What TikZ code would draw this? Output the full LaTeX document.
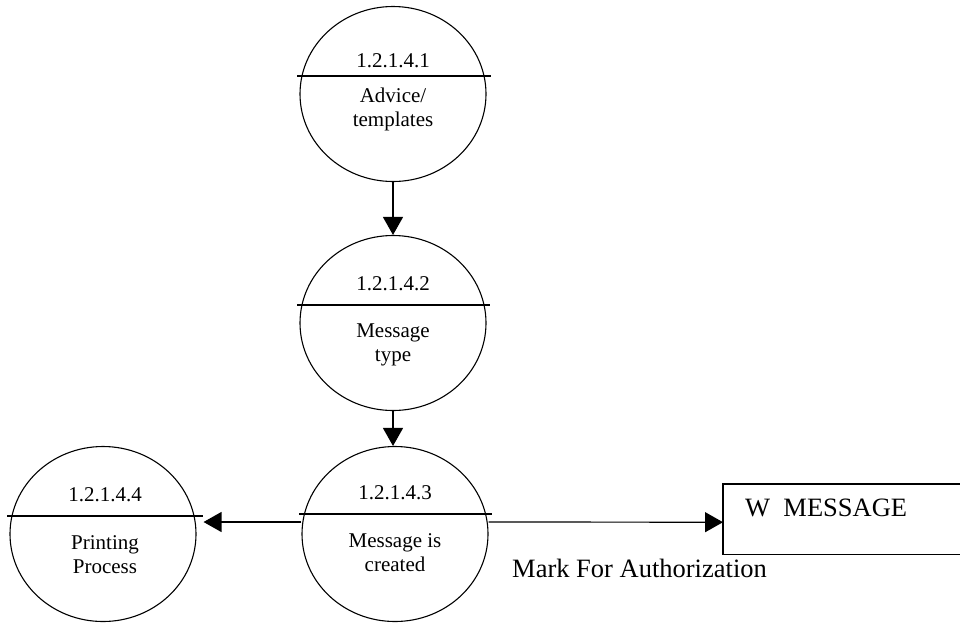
\documentclass[tikz,border=0pt]{standalone}
\usepackage{fontspec}
\setmainfont{Liberation Serif}
\usetikzlibrary{shapes.geometric,arrows.meta}
\begin{document}
\begin{tikzpicture}[x=1pt,y=-1pt,
  proc/.style={draw, ellipse, line width=1.1pt, minimum width=186pt, minimum height=175pt, inner sep=0pt},
  flow/.style={line width=1.2pt, -{Triangle[width=20pt,length=18pt]}},
  divider/.style={line width=1.3pt},
  lbl/.style={font=\fontsize{21}{24}\selectfont, align=center, inner sep=0pt},
  big/.style={font=\fontsize{26.5}{30}\selectfont, inner sep=0pt}]
\useasboundingbox (0,0) rectangle (960,622);
% processes
\node[proc] (p1) at (393,94) {};
\node[proc] (p2) at (393,323) {};
\node[proc] (p3) at (395,534) {};
\node[proc] (p4) at (103,534) {};
% dividers
\draw[divider] ([xshift=-2pt,yshift=18pt]p1.west) -- ([xshift=4pt,yshift=18pt]p1.east);
\draw[divider] ([xshift=-2pt,yshift=18pt]p2.west) -- ([xshift=3pt,yshift=18pt]p2.east);
\draw[divider] ([xshift=-2pt,yshift=20pt]p3.west) -- ([xshift=3pt,yshift=20pt]p3.east);
\draw[divider] ([xshift=-2pt,yshift=18pt]p4.west) -- ([xshift=6pt,yshift=18pt]p4.east);
% texts
\node[lbl] (n1) at (393,61) {1.2.1.4.1};
\node[lbl] (t1) at (393,109) {Advice/\\templates};
\node[lbl] (n2) at (393,284) {1.2.1.4.2};
\node[lbl] (t2) at (393,345) {Message\\type};
\node[lbl] (n3) at (395,493) {1.2.1.4.3};
\node[lbl] (t3) at (395,553) {Message is\\created};
\node[lbl] (n4) at (105,495) {1.2.1.4.4};
\node[lbl] (t4) at (105,555) {Printing\\Process};
% data store
\node[minimum width=240pt, minimum height=70pt, inner sep=0pt, anchor=north west] (box) at (723,484) {};
\draw[line width=1.1pt] (box.north east) -- (box.north west) -- (box.south west) -- (box.south east);
\node[big, anchor=west] (store) at (745,508) {W\ \ MESSAGE};
% flows
\draw[flow] (p1.south) -- (p2.north);
\draw[flow] (p2.south) -- (p2.south |- p3.north);
\draw[flow] ([yshift=12pt]p3.west) -- ([yshift=12pt,xshift=7pt]p4.east);
\draw[flow] ([yshift=12pt]p3.east) -- ([yshift=-3pt]box.west);
\node[big, anchor=west] (flowlbl) at (512,568) {Mark For Authorization};
\end{tikzpicture}
\end{document}
